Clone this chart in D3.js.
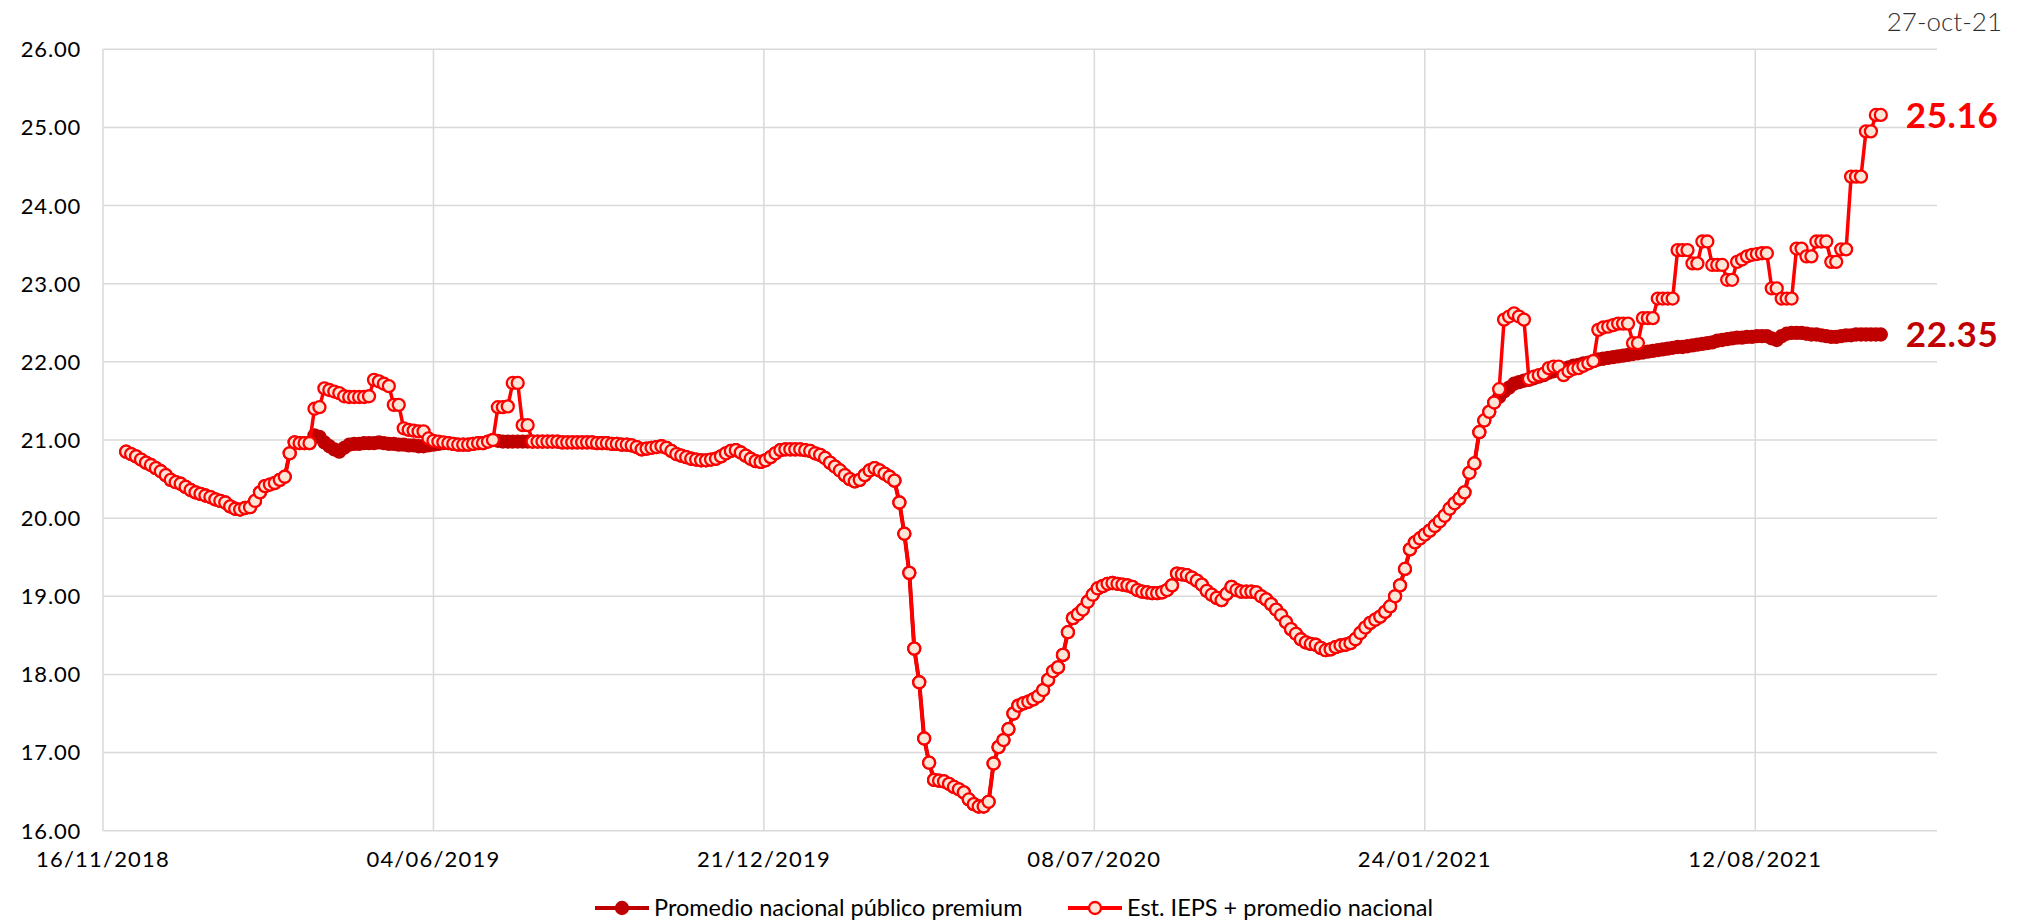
<!DOCTYPE html>
<html>
<head>
<meta charset="utf-8">
<title>Precio gasolina premium</title>
<script src="https://cdnjs.cloudflare.com/ajax/libs/d3/7.8.5/d3.min.js"></script>
<style>
  body { margin: 0; background: #fff; }
  svg text { font-family: Lato, "Liberation Sans", sans-serif; }
</style>
</head>
<body>
<div id="chart"></div>
<script>
// data: one value every 3 days, first point 30/11/2018, last point 27/10/2021
var startDate = "2018-11-30";
var stepDays = 3;

var premium = [
  20.85, 20.82, 20.79, 20.75, 20.71, 20.68, 20.64, 20.60, 20.55, 20.49,
  20.46, 20.44, 20.40, 20.36, 20.33, 20.31, 20.29, 20.27, 20.24, 20.22,
  20.20, 20.15, 20.12, 20.11, 20.13, 20.14, 20.22, 20.33, 20.41, 20.43,
  20.45, 20.49, 20.53, 20.83, 20.97, 20.96, 20.96, 20.96, 21.06, 21.04,
  20.97, 20.92, 20.88, 20.85, 20.90, 20.94, 20.95, 20.95, 20.96, 20.96,
  20.96, 20.97, 20.96, 20.95, 20.95, 20.94, 20.94, 20.93, 20.93, 20.92,
  20.92, 20.93, 20.94, 20.95, 20.96, 20.96, 20.95, 20.94, 20.94, 20.94,
  20.95, 20.96, 20.96, 20.98, 21.00, 20.99, 20.98, 20.98, 20.98, 20.98,
  20.98, 20.98, 20.98, 20.98, 20.98, 20.98, 20.98, 20.98, 20.97, 20.97,
  20.97, 20.97, 20.97, 20.97, 20.97, 20.96, 20.96, 20.96, 20.95, 20.95,
  20.94, 20.94, 20.93, 20.91, 20.88, 20.89, 20.90, 20.91, 20.92, 20.90,
  20.86, 20.82, 20.80, 20.78, 20.76, 20.75, 20.74, 20.74, 20.75, 20.76,
  20.79, 20.83, 20.86, 20.87, 20.84, 20.80, 20.76, 20.73, 20.72, 20.74,
  20.78, 20.83, 20.87, 20.88, 20.88, 20.88, 20.88, 20.87, 20.86, 20.83,
  20.81, 20.77, 20.71, 20.66, 20.61, 20.55, 20.50, 20.47, 20.49, 20.55,
  20.61, 20.64, 20.61, 20.57, 20.53, 20.48, 20.20, 19.80, 19.30, 18.33,
  17.90, 17.18, 16.87, 16.65, 16.64, 16.63, 16.60, 16.56, 16.53, 16.49,
  16.40, 16.34, 16.31, 16.31, 16.37, 16.86, 17.07, 17.16, 17.30, 17.50,
  17.60, 17.63, 17.65, 17.68, 17.72, 17.80, 17.93, 18.04, 18.09, 18.25,
  18.54, 18.72, 18.77, 18.83, 18.93, 19.02, 19.10, 19.13, 19.16, 19.17,
  19.16, 19.15, 19.14, 19.12, 19.08, 19.06, 19.05, 19.04, 19.04, 19.05,
  19.08, 19.14, 19.29, 19.28, 19.27, 19.24, 19.20, 19.15, 19.07, 19.02,
  18.98, 18.95, 19.03, 19.12, 19.08, 19.06, 19.06, 19.06, 19.05, 19.00,
  18.96, 18.90, 18.83, 18.76, 18.67, 18.58, 18.52, 18.45, 18.41, 18.39,
  18.38, 18.34, 18.31, 18.32, 18.35, 18.37, 18.38, 18.40, 18.45, 18.53,
  18.60, 18.66, 18.70, 18.74, 18.80, 18.87, 19.00, 19.14, 19.35, 19.60,
  19.69, 19.74, 19.79, 19.84, 19.90, 19.96, 20.03, 20.12, 20.19, 20.25,
  20.33, 20.58, 20.70, 21.10, 21.25, 21.36, 21.48, 21.55, 21.62, 21.67,
  21.72, 21.74, 21.76, 21.77, 21.79, 21.81, 21.83, 21.86, 21.88, 21.90,
  21.91, 21.93, 21.95, 21.96, 21.98, 21.99, 22.01, 22.03, 22.04, 22.05,
  22.06, 22.07, 22.08, 22.09, 22.10, 22.11, 22.12, 22.13, 22.14, 22.15,
  22.16, 22.17, 22.18, 22.19, 22.19, 22.20, 22.21, 22.22, 22.23, 22.24,
  22.25, 22.27, 22.28, 22.29, 22.30, 22.31, 22.31, 22.32, 22.32, 22.33,
  22.33, 22.33, 22.30, 22.28, 22.33, 22.36, 22.37, 22.37, 22.37, 22.36,
  22.35, 22.35, 22.34, 22.33, 22.32, 22.32, 22.33, 22.34, 22.34, 22.35,
  22.35, 22.35, 22.35, 22.35, 22.35
];

var ieps = [
  20.85, 20.82, 20.79, 20.75, 20.71, 20.68, 20.64, 20.60, 20.55, 20.49,
  20.46, 20.44, 20.40, 20.36, 20.33, 20.31, 20.29, 20.27, 20.24, 20.22,
  20.20, 20.15, 20.12, 20.11, 20.13, 20.14, 20.22, 20.33, 20.41, 20.43,
  20.45, 20.49, 20.53, 20.83, 20.97, 20.96, 20.96, 20.96, 21.40, 21.42,
  21.66, 21.64, 21.62, 21.60, 21.56, 21.55, 21.55, 21.55, 21.55, 21.56,
  21.77, 21.75, 21.72, 21.69, 21.45, 21.45, 21.15, 21.13, 21.12, 21.11,
  21.11, 21.02, 20.99, 20.98, 20.97, 20.96, 20.95, 20.94, 20.94, 20.94,
  20.95, 20.96, 20.96, 20.98, 21.00, 21.42, 21.42, 21.43, 21.73, 21.73,
  21.19, 21.19, 20.98, 20.98, 20.98, 20.98, 20.98, 20.98, 20.97, 20.97,
  20.97, 20.97, 20.97, 20.97, 20.97, 20.96, 20.96, 20.96, 20.95, 20.95,
  20.94, 20.94, 20.93, 20.91, 20.88, 20.89, 20.90, 20.91, 20.92, 20.90,
  20.86, 20.82, 20.80, 20.78, 20.76, 20.75, 20.74, 20.74, 20.75, 20.76,
  20.79, 20.83, 20.86, 20.87, 20.84, 20.80, 20.76, 20.73, 20.72, 20.74,
  20.78, 20.83, 20.87, 20.88, 20.88, 20.88, 20.88, 20.87, 20.86, 20.83,
  20.81, 20.77, 20.71, 20.66, 20.61, 20.55, 20.50, 20.47, 20.49, 20.55,
  20.61, 20.64, 20.61, 20.57, 20.53, 20.48, 20.20, 19.80, 19.30, 18.33,
  17.90, 17.18, 16.87, 16.65, 16.64, 16.63, 16.60, 16.56, 16.53, 16.49,
  16.40, 16.34, 16.31, 16.31, 16.37, 16.86, 17.07, 17.16, 17.30, 17.50,
  17.60, 17.63, 17.65, 17.68, 17.72, 17.80, 17.93, 18.04, 18.09, 18.25,
  18.54, 18.72, 18.77, 18.83, 18.93, 19.02, 19.10, 19.13, 19.16, 19.17,
  19.16, 19.15, 19.14, 19.12, 19.08, 19.06, 19.05, 19.04, 19.04, 19.05,
  19.08, 19.14, 19.29, 19.28, 19.27, 19.24, 19.20, 19.15, 19.07, 19.02,
  18.98, 18.95, 19.03, 19.12, 19.08, 19.06, 19.06, 19.06, 19.05, 19.00,
  18.96, 18.90, 18.83, 18.76, 18.67, 18.58, 18.52, 18.45, 18.41, 18.39,
  18.38, 18.34, 18.31, 18.32, 18.35, 18.37, 18.38, 18.40, 18.45, 18.53,
  18.60, 18.66, 18.70, 18.74, 18.80, 18.87, 19.00, 19.14, 19.35, 19.60,
  19.69, 19.74, 19.79, 19.84, 19.90, 19.96, 20.03, 20.12, 20.19, 20.25,
  20.33, 20.58, 20.70, 21.10, 21.25, 21.36, 21.48, 21.65, 22.54, 22.58,
  22.62, 22.58, 22.54, 21.78, 21.81, 21.83, 21.85, 21.92, 21.94, 21.94,
  21.83, 21.88, 21.91, 21.92, 21.95, 21.98, 22.01, 22.41, 22.44, 22.45,
  22.47, 22.49, 22.49, 22.49, 22.24, 22.24, 22.56, 22.56, 22.56, 22.81,
  22.81, 22.81, 22.81, 23.43, 23.43, 23.43, 23.26, 23.26, 23.54, 23.54,
  23.24, 23.24, 23.24, 23.05, 23.05, 23.28, 23.31, 23.35, 23.37, 23.38,
  23.39, 23.39, 22.94, 22.94, 22.81, 22.81, 22.81, 23.45, 23.45, 23.35,
  23.35, 23.54, 23.54, 23.54, 23.28, 23.28, 23.44, 23.44, 24.37, 24.37,
  24.37, 24.95, 24.95, 25.16, 25.16
];

var seriesNames = ["Promedio nacional público premium", "Est. IEPS + promedio nacional"];
var yTicks = [16, 17, 18, 19, 20, 21, 22, 23, 24, 25, 26];
var axisStart = "2018-11-16";
var axisEnd = "2021-11-30";
var tickStepDays = 200;
var cutLabel = "27-oct-21";

var W = 2018, H = 924;
var plotL = 103, plotR = 1937, plotT = 49.3, plotB = 830.7;
var markerR = 6, markerW = 2.3;

var parse = d3.utcParse("%Y-%m-%d");
var fmt = d3.utcFormat("%d/%m/%Y");
var first = parse(startDate);

function toPoints(values) {
  return values.map(function(v, i) {
    return { date: d3.utcDay.offset(first, i * stepDays), value: v };
  });
}
var premiumPts = toPoints(premium);
var iepsPts = toPoints(ieps);

var x = d3.scaleUtc()
  .domain([parse(axisStart), parse(axisEnd)])
  .range([plotL, plotR]);
var y = d3.scaleLinear()
  .domain([16, 26])
  .range([plotB, plotT]);

var xTicks = d3.utcDay.range(parse(axisStart), parse(axisEnd), tickStepDays);

var svg = d3.select("#chart").append("svg")
  .attr("width", W)
  .attr("height", H);

// gridlines
svg.append("g").selectAll("line")
  .data(yTicks)
  .enter().append("line")
    .attr("x1", plotL).attr("x2", plotR)
    .attr("y1", function(d) { return y(d); })
    .attr("y2", function(d) { return y(d); })
    .attr("stroke", "#d9d9d9")
    .attr("stroke-width", 1.5);

svg.append("g").selectAll("line")
  .data(xTicks)
  .enter().append("line")
    .attr("x1", function(d) { return x(d); })
    .attr("x2", function(d) { return x(d); })
    .attr("y1", plotT).attr("y2", plotB)
    .attr("stroke", "#d9d9d9")
    .attr("stroke-width", 1.5);

// axis labels
svg.append("g").selectAll("text")
  .data(yTicks)
  .enter().append("text")
    .attr("x", 81)
    .attr("y", function(d) { return y(d); })
    .attr("dy", "0.36em")
    .attr("text-anchor", "end")
    .attr("font-size", 22)
    .attr("letter-spacing", 0.8)
    .attr("fill", "#000")
    .text(function(d) { return d.toFixed(2); });

svg.append("g").selectAll("text")
  .data(xTicks)
  .enter().append("text")
    .attr("x", function(d) { return x(d); })
    .attr("y", 867)
    .attr("text-anchor", "middle")
    .attr("font-size", 22)
    .attr("letter-spacing", 1.2)
    .attr("fill", "#000")
    .text(function(d) { return fmt(d); });

var line = d3.line()
  .x(function(d) { return x(d.date); })
  .y(function(d) { return y(d.value); });

// premium series (underneath)
svg.append("path")
  .datum(premiumPts)
  .attr("d", line)
  .attr("fill", "none")
  .attr("stroke", "#c00000")
  .attr("stroke-width", 4);

svg.append("g").selectAll("circle")
  .data(premiumPts)
  .enter().append("circle")
    .attr("cx", function(d) { return x(d.date); })
    .attr("cy", function(d) { return y(d.value); })
    .attr("r", markerR)
    .attr("fill", "#c00000")
    .attr("stroke", "#c00000")
    .attr("stroke-width", markerW);

// IEPS series
svg.append("path")
  .datum(iepsPts)
  .attr("d", line)
  .attr("fill", "none")
  .attr("stroke", "#ff0000")
  .attr("stroke-width", 3.5);

svg.append("g").selectAll("circle")
  .data(iepsPts)
  .enter().append("circle")
    .attr("cx", function(d) { return x(d.date); })
    .attr("cy", function(d) { return y(d.value); })
    .attr("r", markerR)
    .attr("fill", "#fbe5d6")
    .attr("stroke", "#ff0000")
    .attr("stroke-width", markerW);

// end labels
var lastP = premiumPts[premiumPts.length - 1];
var lastE = iepsPts[iepsPts.length - 1];
svg.append("text")
  .attr("x", x(lastE.date) + 25)
  .attr("y", y(lastE.value))
  .attr("dy", "0.36em")
  .attr("font-size", 35)
  .attr("font-weight", "bold")
  .attr("letter-spacing", 0.6)
  .attr("fill", "#ff0000")
  .text(lastE.value.toFixed(2));
svg.append("text")
  .attr("x", x(lastP.date) + 25)
  .attr("y", y(lastP.value))
  .attr("dy", "0.36em")
  .attr("font-size", 35)
  .attr("font-weight", "bold")
  .attr("letter-spacing", 0.6)
  .attr("fill", "#c00000")
  .text(lastP.value.toFixed(2));

svg.append("text")
  .attr("x", 2002)
  .attr("y", 31)
  .attr("text-anchor", "end")
  .attr("font-size", 26)
  .attr("font-weight", 300)
  .attr("fill", "#303030")
  .text(cutLabel);

// legend
var legend = [
  { name: seriesNames[0], x: 595, stroke: "#c00000", fill: "#c00000" },
  { name: seriesNames[1], x: 1068, stroke: "#ff0000", fill: "#fbe5d6" }
];
var ly = 908;
var lg = svg.append("g").selectAll("g")
  .data(legend)
  .enter().append("g");
lg.append("line")
  .attr("x1", function(d) { return d.x; })
  .attr("x2", function(d) { return d.x + 54; })
  .attr("y1", ly).attr("y2", ly)
  .attr("stroke", function(d) { return d.stroke; })
  .attr("stroke-width", 4);
lg.append("circle")
  .attr("cx", function(d) { return d.x + 27; })
  .attr("cy", ly)
  .attr("r", markerR)
  .attr("fill", function(d) { return d.fill; })
  .attr("stroke", function(d) { return d.stroke; })
  .attr("stroke-width", markerW);
lg.append("text")
  .attr("x", function(d) { return d.x + 59; })
  .attr("y", ly)
  .attr("dy", "0.35em")
  .attr("font-size", 23.5)
  .attr("fill", "#000")
  .text(function(d) { return d.name; });
</script>
</body>
</html>
